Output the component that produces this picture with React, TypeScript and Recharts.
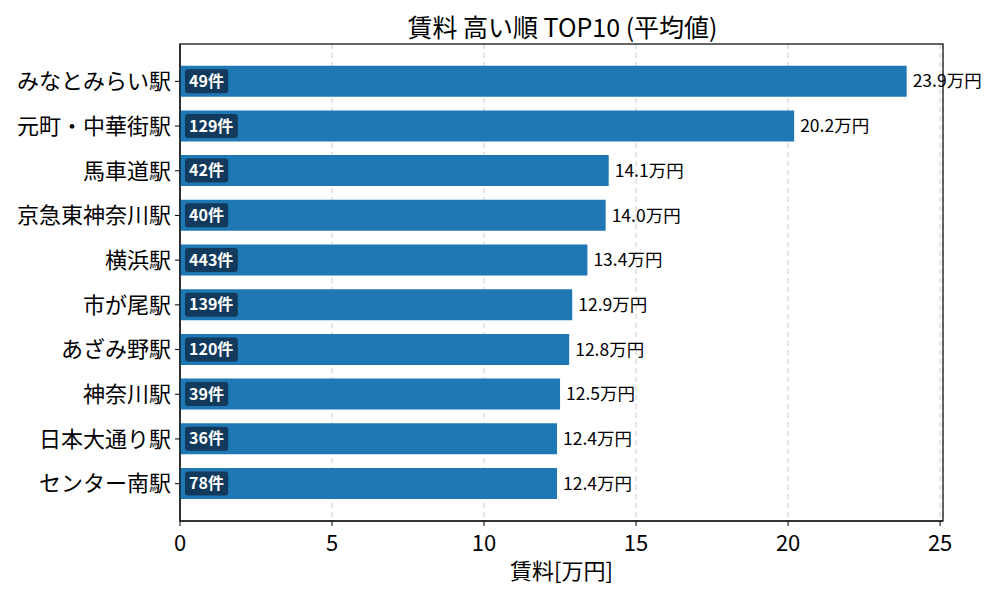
import React from "react";
import {
  BarChart,
  Bar,
  XAxis,
  YAxis,
  CartesianGrid,
  LabelList,
  ReferenceArea,
} from "recharts";

const stations = [
  "みなとみらい駅",
  "元町・中華街駅",
  "馬車道駅",
  "京急東神奈川駅",
  "横浜駅",
  "市が尾駅",
  "あざみ野駅",
  "神奈川駅",
  "日本大通り駅",
  "センター南駅",
];
const avgRent = [23.9, 20.2, 14.1, 14.0, 13.4, 12.9, 12.8, 12.5, 12.4, 12.4];
const counts = [49, 129, 42, 40, 443, 139, 120, 39, 36, 78];
const xTicks = [0, 5, 10, 15, 20, 25];

const data = stations.map((name, i) => ({
  name,
  rent: avgRent[i],
  count: counts[i],
}));

const FONT = "'Noto Sans CJK JP', 'Noto Sans', sans-serif";
const BAR = "#1f77b4";
const XMAX = 25.095;
const PAD = 15;

// dark badge with listing count at the left end of each bar
function CountBadge(props: any) {
  const { x, y, height, value } = props;
  const label = `${value}件`;
  const digits = String(value).length;
  const w = digits * 9.6 + 16 + 8;
  const cy = y + height / 2;
  return (
    <g>
      <rect x={x + 5} y={cy - 12} width={w} height={24} rx={3} fill="#123a5c" />
      <text
        x={x + 9}
        y={cy}
        dy="0.35em"
        fill="#fff"
        fontSize={16}
        fontWeight="bold"
        fontFamily={FONT}
      >
        {label}
      </text>
    </g>
  );
}

// axes frame: reference area covers the category band only, so extend by the padding
function Frame(props: any) {
  const { x, y, width, height } = props;
  return (
    <rect x={x} y={y - PAD} width={width} height={height + PAD * 2} fill="none" stroke="#000" strokeWidth={1.2} />
  );
}

export default function App() {
  return (
    <div style={{ position: "absolute", left: 0, top: 0, width: 1000, height: 600, background: "#fff", fontFamily: FONT }}>
      <div
        style={{
          position: "absolute",
          top: 8,
          left: 0,
          width: 1000,
          textAlign: "center",
          fontSize: 25,
          lineHeight: "36px",
          paddingLeft: 125,
          boxSizing: "border-box",
          color: "#000",
        }}
      >
        賃料 高い順 TOP10 (平均値)
      </div>
      <BarChart
        width={1000}
        height={600}
        data={data}
        layout="vertical"
        margin={{ top: 44, right: 57, bottom: 0, left: 0 }}
        barCategoryGap="15%"
      >
        <CartesianGrid horizontal={false} strokeDasharray="5 4" stroke="#cccccc" />
        <XAxis
          type="number"
          dataKey="rent"
          domain={[0, XMAX]}
          ticks={xTicks}
          allowDataOverflow
          height={79}
          tickSize={5}
          tickMargin={9}
          stroke="#000"
          tick={{ fontSize: 22, fill: "#000", fontFamily: FONT }}
          label={{ value: "賃料[万円]", position: "insideBottom", offset: 21, fontSize: 22, fill: "#000", fontFamily: FONT }}
        />
        <YAxis
          type="category"
          dataKey="name"
          width={180}
          padding={{ top: PAD, bottom: PAD }}
          tickSize={5}
          tickMargin={4}
          stroke="#000"
          tick={{ fontSize: 22, fill: "#000", fontFamily: FONT }}
        />
        <Bar dataKey="rent" fill={BAR} isAnimationActive={false}>
          <LabelList dataKey="count" content={<CountBadge />} />
          <LabelList
            dataKey="rent"
            position="right"
            offset={6}
            formatter={(v: any) => `${Number(v).toFixed(1)}万円`}
            style={{ fontSize: 17.5, fill: "#000", fontFamily: FONT }}
          />
        </Bar>
        <ReferenceArea x1={0} x2={XMAX} ifOverflow="visible" shape={<Frame />} />
      </BarChart>
    </div>
  );
}
